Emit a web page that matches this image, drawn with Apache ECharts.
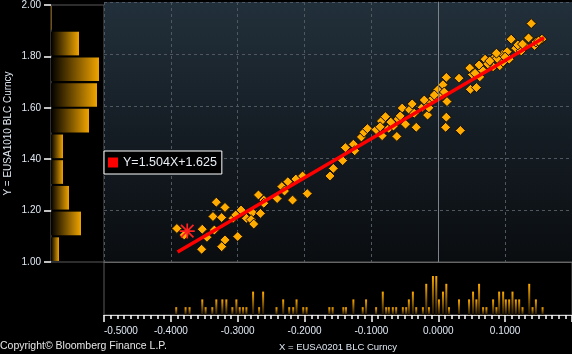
<!doctype html>
<html>
<head>
    <meta charset="utf-8">
    <title>EUSA1010 vs EUSA0201</title>
    <style>
        html, body { margin: 0; padding: 0; background: #000; }
        #chart { width: 572px; height: 354px; }
    </style>
</head>
<body>
<div id="chart"></div>
<script src="https://cdn.jsdelivr.net/npm/echarts@6/dist/echarts.min.js"></script>
<script>
    // scatter points [x, y]
    var scatterData = [
        [-0.391, 1.129], [-0.380, 1.104], [-0.353, 1.126], [-0.354, 1.049], [-0.346, 1.095],
        [-0.335, 1.123], [-0.337, 1.175], [-0.332, 1.230], [-0.319, 1.210], [-0.324, 1.171],
        [-0.319, 1.085], [-0.324, 1.059], [-0.300, 1.098], [-0.307, 1.168], [-0.303, 1.181],
        [-0.295, 1.200], [-0.287, 1.168], [-0.278, 1.190], [-0.280, 1.163], [-0.276, 1.146],
        [-0.266, 1.187], [-0.269, 1.258], [-0.261, 1.238], [-0.261, 1.226], [-0.241, 1.244],
        [-0.218, 1.238], [-0.234, 1.290], [-0.230, 1.273], [-0.225, 1.309], [-0.213, 1.319],
        [-0.203, 1.331], [-0.196, 1.263], [-0.162, 1.331], [-0.157, 1.360], [-0.143, 1.390],
        [-0.139, 1.440], [-0.127, 1.453], [-0.125, 1.428], [-0.115, 1.481], [-0.111, 1.499],
        [-0.106, 1.513], [-0.093, 1.509], [-0.084, 1.486], [-0.085, 1.542], [-0.079, 1.559],
        [-0.087, 1.520], [-0.074, 1.514], [-0.067, 1.523], [-0.062, 1.483], [-0.049, 1.530],
        [-0.033, 1.518], [-0.054, 1.592], [-0.043, 1.585], [-0.039, 1.608], [-0.036, 1.572],
        [-0.024, 1.595], [-0.016, 1.565], [-0.019, 1.614], [-0.013, 1.619], [-0.004, 1.649],
        [0.001, 1.636], [0.004, 1.668], [0.007, 1.682], [0.012, 1.710], [0.013, 1.617],
        [0.012, 1.557], [0.011, 1.518], [0.033, 1.506], [0.031, 1.707], [0.048, 1.664],
        [0.057, 1.671], [0.047, 1.746], [0.051, 1.721], [0.062, 1.712], [0.066, 1.738],
        [0.070, 1.780], [0.085, 1.788], [0.082, 1.751], [0.092, 1.755], [0.097, 1.769],
        [0.106, 1.780], [0.109, 1.857], [0.116, 1.822], [0.124, 1.812], [0.135, 1.862],
        [0.144, 1.833], [0.155, 1.857], [0.139, 1.917], [0.088, 1.783], [0.096, 1.799],
        [0.061, 1.758], [0.055, 1.726], [-0.014, 1.593], [-0.008, 1.630], [-0.001, 1.662],
        [0.006, 1.642], [-0.021, 1.623], [0.119, 1.835], [0.130, 1.831], [0.103, 1.809],
        [0.087, 1.803], [-0.071, 1.538], [-0.060, 1.550], [-0.057, 1.562], [-0.006, 1.642],
        [0.009, 1.654], [0.074, 1.762], [0.077, 1.773], [0.100, 1.788], [0.126, 1.838],
        [0.146, 1.846], [0.150, 1.850]
    ];
    // latest point
    var lastPoint = [-0.3755, 1.119];

    // regression Y = slope * X + intercept
    var slope = 1.504;
    var intercept = 1.625;
    var fitRange = [-0.39, 0.158];
    var fitName = 'Y=1.504X+1.625';

    // left histogram (Y distribution)
    var yBins = ['1.0', '1.1', '1.2', '1.3', '1.4', '1.5', '1.6', '1.7', '1.8', '1.9'];
    var yCounts = [4, 15, 9, 6, 6, 19, 23, 24, 14, 0.5];

    // bottom histogram (X distribution)
    var xHistPos = [
        -0.392, -0.378, -0.372, -0.353, -0.348, -0.338, -0.332, -0.323, -0.317, -0.308,
        -0.302, -0.297, -0.292, -0.287, -0.277, -0.268, -0.262, -0.242, -0.232, -0.223,
        -0.217, -0.212, -0.202, -0.197, -0.163, -0.158, -0.142, -0.138, -0.127, -0.113,
        -0.108, -0.093, -0.083, -0.078, -0.074, -0.068, -0.063, -0.053, -0.048, -0.044,
        -0.038, -0.033, -0.023, -0.018, -0.014, -0.008, -0.003, 0.001, 0.007, 0.012,
        0.016, 0.031, 0.046, 0.052, 0.057, 0.061, 0.067, 0.072, 0.082, 0.087,
        0.091, 0.097, 0.101, 0.106, 0.111, 0.116, 0.121, 0.126, 0.136, 0.141,
        0.146, 0.156
    ];
    var xHistCounts = [
        1, 1, 1, 2, 1, 1, 2, 2, 2, 1,
        2, 1, 1, 1, 3, 1, 3, 1, 2, 1,
        1, 2, 1, 1, 1, 1, 1, 1, 2, 1,
        2, 1, 3, 1, 1, 1, 1, 1, 1, 2,
        3, 1, 1, 4, 1, 5, 5, 2, 3, 4,
        1, 2, 2, 3, 2, 4, 1, 1, 2, 1,
        3, 3, 2, 2, 3, 2, 2, 1, 4, 1,
        2, 1
    ];

    var xTicks = {min: -0.5, max: 0.2, interval: 0.1};
    var yTicks = {min: 1, max: 2, interval: 0.2};

    var labelColor = '#dfe8f3';
    var font = 'Liberation Sans';

    var fitData = fitRange.map(function (x) { return [x, slope * x + intercept]; });
    var bottomData = xHistPos.map(function (x, i) { return [x, xHistCounts[i]]; });

    // asterisk marker
    var starPath = 'path://M0 6.2L14 6.2L14 7.8L0 7.8Z M6.2 0L7.8 0L7.8 14L6.2 14Z ' +
        'M1.8 0.6L13.4 12.2L12.2 13.4L0.6 1.8Z M12.2 0.6L13.4 1.8L1.8 13.4L0.6 12.2Z';

    var chart = echarts.init(document.getElementById('chart'));
    var option = {
        backgroundColor: '#000',
        animation: false,
        textStyle: {fontFamily: font},
        title: {
            text: 'Copyright\u00a9 Bloomberg Finance L.P.',
            left: 0,
            top: 341,
            padding: 0,
            textStyle: {color: '#e6e6e6', fontSize: 10.5, fontWeight: 'normal', fontFamily: font}
        },
        legend: {
            data: [fitName],
            left: 104,
            top: 151,
            padding: [5, 5, 5, 4],
            itemWidth: 10,
            itemHeight: 10,
            icon: 'rect',
            backgroundColor: '#000',
            borderColor: '#fff',
            borderWidth: 1,
            borderRadius: 0,
            textStyle: {color: '#e8eef5', fontSize: 12.5, fontFamily: font}
        },
        grid: [
            {left: 51, top: 2, width: 53, height: 260, show: true, backgroundColor: '#000', borderColor: '#5a5a5a', borderWidth: 1},
            {
                left: 104, top: 2, width: 469, height: 260, show: true, borderWidth: 0,
                backgroundColor: new echarts.graphic.LinearGradient(0, 0, 0, 1, [
                    {offset: 0, color: '#22303b'},
                    {offset: 0.5, color: '#151d24'},
                    {offset: 1, color: '#0a0d10'}
                ])
            },
            {left: 104, top: 262, width: 469, height: 53, show: true, backgroundColor: '#000', borderColor: '#5a5a5a', borderWidth: 1}
        ],
        xAxis: [
            {gridIndex: 0, type: 'value', min: 0, max: 26.5, show: false},
            {
                gridIndex: 1, type: 'value', min: xTicks.min, max: xTicks.max, interval: xTicks.interval,
                axisLabel: {show: false}, axisTick: {show: false},
                axisLine: {lineStyle: {color: '#666'}},
                splitLine: {lineStyle: {color: '#4f5861', type: [3, 3]}}
            },
            {
                gridIndex: 2, type: 'value', min: xTicks.min, max: xTicks.max, interval: xTicks.interval,
                name: 'X = EUSA0201 BLC Curncy', nameLocation: 'middle', nameGap: 27,
                nameTextStyle: {color: labelColor, fontSize: 9.5, fontFamily: font},
                axisLine: {lineStyle: {color: '#cfcfcf', width: 1}},
                axisTick: {length: 7, lineStyle: {color: '#fff', width: 1.5}},
                minorTick: {show: true, splitNumber: 10, length: 4, lineStyle: {color: '#fff', width: 1.5}},
                splitLine: {show: false},
                axisLabel: {
                    color: labelColor, fontSize: 10, margin: 11, showMaxLabel: false, alignMinLabel: 'left',
                    formatter: function (v) { return v.toFixed(4); }
                }
            }
        ],
        yAxis: [
            {gridIndex: 0, type: 'category', data: yBins, show: false},
            {
                gridIndex: 0, type: 'value', min: yTicks.min, max: yTicks.max, interval: yTicks.interval,
                position: 'left',
                name: 'Y = EUSA1010 BLC Curncy', nameLocation: 'middle', nameGap: 38, nameRotate: 90,
                nameTextStyle: {color: labelColor, fontSize: 10, fontFamily: font},
                axisLine: {show: false},
                axisTick: {length: 7, lineStyle: {color: '#fff', width: 1.5}},
                splitLine: {show: false},
                axisLabel: {color: labelColor, fontSize: 10, margin: 10, formatter: function (v) { return v.toFixed(2); }}
            },
            {
                gridIndex: 1, type: 'value', min: yTicks.min, max: yTicks.max, interval: yTicks.interval,
                axisLabel: {show: false}, axisTick: {show: false},
                axisLine: {show: true, lineStyle: {color: '#666'}},
                splitLine: {lineStyle: {color: '#4f5861', type: [3, 3]}}
            },
            {gridIndex: 2, type: 'value', min: 0, max: 6.8, show: false, splitLine: {show: false}}
        ],
        series: [
            {
                type: 'bar',
                xAxisIndex: 0,
                yAxisIndex: 0,
                data: yCounts,
                barCategoryGap: '8%',
                itemStyle: {
                    color: new echarts.graphic.LinearGradient(0, 0, 1, 0, [
                        {offset: 0, color: '#000'},
                        {offset: 1, color: '#f0a400'}
                    ])
                }
            },
            {
                // zero line
                type: 'line',
                xAxisIndex: 1,
                yAxisIndex: 2,
                data: [],
                z: 1,
                markLine: {
                    silent: true,
                    symbol: 'none',
                    label: {show: false},
                    lineStyle: {color: '#7d838a', type: 'solid', width: 1},
                    data: [{xAxis: 0}]
                }
            },
            {
                type: 'scatter',
                xAxisIndex: 1,
                yAxisIndex: 2,
                data: scatterData,
                symbol: 'diamond',
                symbolSize: 10,
                itemStyle: {color: '#ffab00', borderColor: '#140e00', borderWidth: 1, opacity: 1},
                z: 3
            },
            {
                name: fitName,
                type: 'line',
                xAxisIndex: 1,
                yAxisIndex: 2,
                data: fitData,
                showSymbol: false,
                lineStyle: {color: '#ff0000', width: 3.5},
                itemStyle: {color: '#ff0000'},
                z: 4
            },
            {
                type: 'scatter',
                xAxisIndex: 1,
                yAxisIndex: 2,
                data: [lastPoint],
                symbol: starPath,
                symbolSize: 15,
                itemStyle: {color: '#ff2020', opacity: 1},
                z: 5
            },
            {
                type: 'bar',
                xAxisIndex: 2,
                yAxisIndex: 3,
                data: bottomData,
                barWidth: 2,
                itemStyle: {
                    color: new echarts.graphic.LinearGradient(0, 0, 0, 1, [
                        {offset: 0, color: '#ffab00'},
                        {offset: 1, color: '#1a1000'}
                    ])
                }
            }
        ]
    };
    chart.setOption(option);
</script>
</body>
</html>
